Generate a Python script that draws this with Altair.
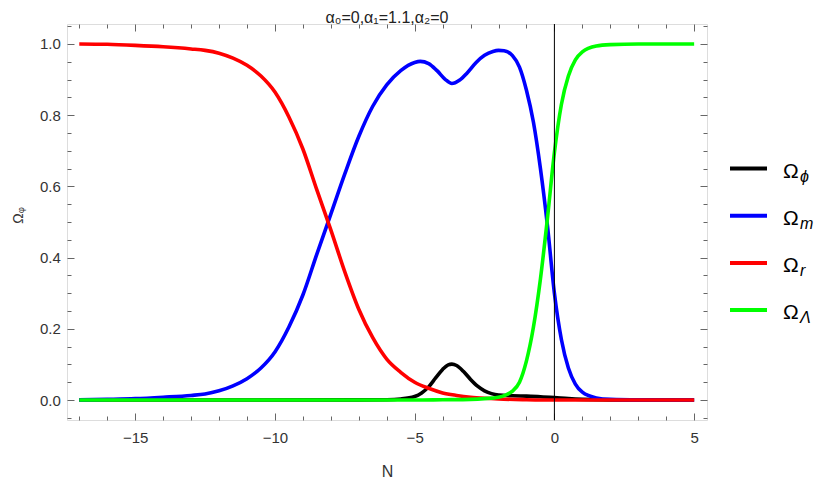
import altair as alt
import pandas as pd

# ---- data ----
N_phi = [-17.0, -7.0, -6.0, -5.5, -5.0, -4.75, -4.5, -4.25, -4.0, -3.8, -3.67, -3.5, -3.25,
         -3.0, -2.75, -2.5, -2.25, -2.0, -1.5, -1.0, -0.5, 0.0, 0.5, 1.0, 2.0, 5.0]
omega_phi = [0.0, 0.0005, 0.001, 0.003, 0.01, 0.02, 0.037, 0.062, 0.086, 0.099, 0.101, 0.097, 0.08,
             0.058, 0.039, 0.026, 0.018, 0.014, 0.012, 0.011, 0.0095, 0.007, 0.004, 0.002, 0.0005, 0.0]

N_m = [-17.0, -16.0, -15.0, -14.0, -13.0, -12.5, -12.0, -11.5, -11.0, -10.5, -10.0, -9.5, -9.0,
       -8.5, -8.0, -7.5, -7.0, -6.5, -6.0, -5.5, -5.0, -4.8, -4.5, -4.2, -3.9, -3.67, -3.4,
       -3.13, -2.8, -2.5, -2.2, -2.0, -1.8, -1.5, -1.25, -1.0, -0.75, -0.5, -0.25, 0.0, 0.25,
       0.5, 0.75, 1.0, 1.5, 2.0, 3.0, 5.0]
omega_m = [0.0005, 0.002, 0.004, 0.008, 0.013, 0.017, 0.026, 0.04, 0.06, 0.09, 0.135, 0.205, 0.295,
           0.41, 0.522, 0.635, 0.74, 0.825, 0.885, 0.925, 0.948, 0.951, 0.945, 0.925, 0.9, 0.889, 0.898,
           0.918, 0.948, 0.968, 0.979, 0.982, 0.981, 0.967, 0.935, 0.87, 0.78, 0.65, 0.49, 0.30, 0.17,
           0.09, 0.045, 0.022, 0.006, 0.002, 0.0005, 0.0]

N_r = [-17.0, -16.0, -15.0, -14.0, -13.0, -12.5, -12.0, -11.5, -11.0, -10.5, -10.0, -9.5, -9.0,
       -8.5, -8.0, -7.5, -7.0, -6.5, -6.0, -5.5, -5.0, -4.5, -4.0, -3.5, -3.0, -2.5, -2.0,
       -1.0, 0.0, 1.0, 5.0]
omega_r = [1.0, 0.999, 0.996, 0.992, 0.986, 0.982, 0.974, 0.96, 0.94, 0.91, 0.865, 0.795, 0.705,
           0.59, 0.478, 0.36, 0.255, 0.175, 0.115, 0.078, 0.05, 0.033, 0.02, 0.013, 0.008, 0.005, 0.003,
           0.001, 0.0, 0.0, 0.0]

N_L = [-17.0, -5.0, -4.0, -3.0, -2.5, -2.0, -1.75, -1.5, -1.25, -1.0, -0.75, -0.5, -0.25, 0.0,
       0.25, 0.5, 0.75, 1.0, 1.5, 2.0, 3.0, 5.0]
omega_L = [0.0, 0.0, 0.001, 0.002, 0.004, 0.008, 0.014, 0.025, 0.05, 0.11, 0.205, 0.34, 0.51, 0.695,
           0.83, 0.91, 0.955, 0.978, 0.994, 0.998, 1.0, 1.0]

x_major = [-15, -10, -5, 0, 5]
x_minor = [v for v in range(-17, 6) if v % 5 != 0]
y_major = [0.0, 0.2, 0.4, 0.6, 0.8, 1.0]
y_minor = [round(-0.05 + 0.05 * i, 2) for i in range(23)]
y_minor = [v for v in y_minor if round(v / 0.2, 6) != round(v / 0.2)]

legend_main = ["Ω", "Ω", "Ω", "Ω"]
legend_sub = ["ϕ", "m", "r", "Λ"]
colors = ["#000000", "#0000ff", "#ff0000", "#00ff00"]

FONT = "Liberation Sans"
TICK = "#666666"

x_scale = alt.Scale(domain=[-17.44, 5.46], nice=False, zero=False)
y_scale = alt.Scale(domain=[-0.056, 1.056], nice=False, zero=False)


def ax(orient, values, size, labels=False, title=None, fmt=None, pad=0, extra=None):
    kw = dict(orient=orient, values=values, tickSize=size, offset=-size, domain=False,
              grid=False, labels=labels, tickColor=TICK, tickWidth=1, title=title)
    if labels:
        kw.update(labelFont=FONT, labelFontSize=15, labelColor="#333333", labelPadding=pad,
                  format=fmt)
    if extra:
        kw.update(extra)
    return alt.Axis(**kw)


axes = [
    (ax("bottom", x_major, 7, True, "N", "d", 10.5,
        dict(titleFont=FONT, titleFontSize=16, titleFontWeight="normal", titleColor="#333333",
             titlePadding=18)),
     ax("left", y_major, 7, True, "Ωᵩ", ".1f", 6.7,
        dict(titleFont=FONT, titleFontSize=14, titleFontWeight="normal", titleColor="#333333",
             titlePadding=14, titleY=191))),
    (ax("bottom", x_minor, 4), ax("left", y_minor, 4)),
    (ax("top", x_major, 7), ax("right", y_major, 7)),
    (ax("top", x_minor, 4), ax("right", y_minor, 4)),
]

series = [(N_phi, omega_phi), (N_m, omega_m), (N_r, omega_r), (N_L, omega_L)]

layers = []
for (N, v), c, (xa, ya) in zip(series, colors, axes):
    df = pd.DataFrame({"N": N, "v": v})
    layers.append(
        alt.Chart(df).mark_line(color=c, strokeWidth=3.6, interpolate="monotone").encode(
            x=alt.X("N:Q", scale=x_scale, axis=xa),
            y=alt.Y("v:Q", scale=y_scale, axis=ya),
        )
    )

one = pd.DataFrame({"a": [0]})
layers.append(
    alt.Chart(one).mark_rule(color="black", strokeWidth=1).encode(
        x=alt.X(datum=0, scale=x_scale, axis=None)
    )
)

# manual legend (to the right of the plot)
for i, (m, s, c) in enumerate(zip(legend_main, legend_sub, colors)):
    yy = 144.5 + 47.2 * i
    layers.append(
        alt.Chart(one).mark_rule(color=c, strokeWidth=4).encode(
            x=alt.value(663), x2=alt.value(700), y=alt.value(yy)
        )
    )
    layers.append(
        alt.Chart(one).mark_text(text=m, font=FONT, fontSize=21, align="left",
                                 baseline="alphabetic", color="black").encode(
            x=alt.value(716), y=alt.value(yy + 9)
        )
    )
    layers.append(
        alt.Chart(one).mark_text(text=s, font=FONT, fontSize=16, fontStyle="italic",
                                 align="left", baseline="alphabetic", color="black").encode(
            x=alt.value(733), y=alt.value(yy + 13)
        )
    )

chart = (
    alt.layer(*layers)
    .resolve_axis(x="independent", y="independent")
    .properties(
        width=640,
        height=396,
        autosize=alt.AutoSizeParams(type="none"),
        padding={"left": 59, "top": 16, "right": 110, "bottom": 62},
        title=alt.TitleParams("α₀=0,α₁=1.1,α₂=0", font=FONT, fontSize=16, fontWeight="normal",
                              color="#222222", offset=-2, anchor="middle"),
    )
    .configure_view(stroke="#9a9a9a", strokeWidth=1.5)
    .configure(background="white")
)

chart.save("out.html", embed_options={"renderer": "svg", "actions": False})
